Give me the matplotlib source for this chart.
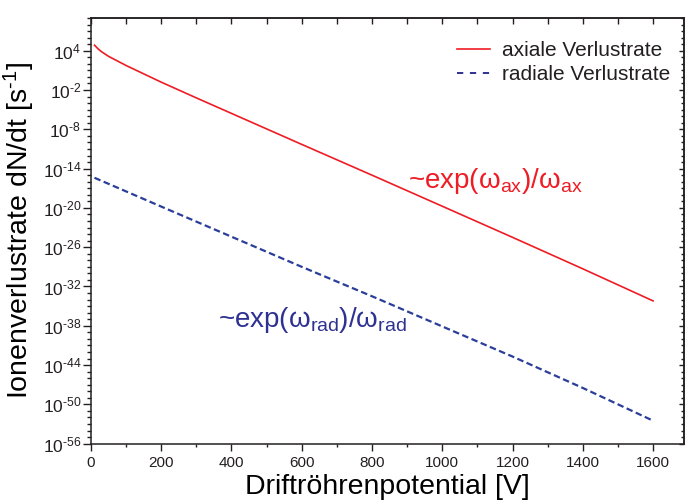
import numpy as np
import matplotlib
matplotlib.use('Agg')
import matplotlib.pyplot as plt
from matplotlib.ticker import FixedLocator, MultipleLocator, FuncFormatter, NullFormatter
from matplotlib.lines import Line2D

# values (rate in 1/s vs drift tube potential in V)
voltage_ax = [10, 20, 30, 50, 100, 200, 300, 400, 600, 800, 1000, 1200, 1400, 1600]
rate_ax = [7.1e4, 2.0e4, 7.1e3, 1.4e3, 56, 0.16, 6.3e-4, 2.7e-6, 5.0e-11,
           1.0e-15, 1.8e-20, 3.2e-25, 5.0e-30, 6.3e-35]

voltage_rad = [10, 200, 400, 600, 800, 1000, 1200, 1400, 1600]
rate_rad = [4.0e-16, 1.6e-20, 4.0e-25, 1.0e-29, 3.2e-34, 7.9e-39, 2.0e-43,
            3.2e-48, 3.2e-53]

labels = ['axiale Verlustrate', 'radiale Verlustrate']
ytick_exp = list(range(-56, 5, 6))

RED = '#ee1c24'
BLUE = '#2b3f9a'
NAVY = '#2e3192'
INK = '#231f20'

plt.rcParams['font.family'] = ['Liberation Sans', 'DejaVu Sans']
plt.rcParams['mathtext.fontset'] = 'custom'
plt.rcParams['mathtext.rm'] = 'Liberation Sans'
plt.rcParams['mathtext.it'] = 'Liberation Sans:italic'
plt.rcParams['lines.scale_dashes'] = False
plt.rcParams['text.color'] = INK
plt.rcParams['axes.edgecolor'] = INK
plt.rcParams['xtick.color'] = INK
plt.rcParams['ytick.color'] = INK


def pow_label(v, pos):
    # hyphen instead of the wide math minus, like the original
    return r'$\mathregular{10^{\text{%d}}}$' % round(np.log10(v))


fig = plt.figure(figsize=(6.85, 5.03), dpi=100)
ax = fig.add_axes([0.1328, 0.1180, 0.8657, 0.8462])

ax.plot(voltage_ax, rate_ax, color=RED, lw=1.2)
ax.plot(voltage_rad, rate_rad, color=BLUE, lw=1.6, ls=(0, (4.7, 2.5)))

ax.set_yscale('log')
ax.set_xlim(0, 1688)
ax.set_ylim(1e-56, 1e9)

# ticks
ax.xaxis.set_major_locator(MultipleLocator(200))
ax.xaxis.set_minor_locator(MultipleLocator(100))
ax.yaxis.set_major_locator(FixedLocator([10.0 ** e for e in ytick_exp]))
ax.yaxis.set_minor_locator(FixedLocator([10.0 ** e for e in range(-56, 10)]))
ax.yaxis.set_major_formatter(FuncFormatter(pow_label))
ax.yaxis.set_minor_formatter(NullFormatter())
ax.tick_params(axis='x', which='major', direction='out', length=5, width=1, labelsize=11, pad=4)
ax.tick_params(axis='x', which='minor', direction='out', length=2.5, width=1)
ax.tick_params(axis='y', which='major', direction='out', length=5.5, width=1, labelsize=12.5, pad=1.5)
ax.tick_params(axis='y', which='minor', direction='out', length=2.8, width=1)
for s in ax.spines.values():
    s.set_linewidth(1.1)

# mirrored ticks pointing inward on top and right
top = ax.secondary_xaxis('top')
top.xaxis.set_major_locator(MultipleLocator(100))
top.tick_params(direction='in', length=4.5, width=1, labeltop=False)
top.spines['top'].set_linewidth(1.1)
right = ax.secondary_yaxis('right')
right.yaxis.set_major_locator(FixedLocator([10.0 ** e for e in ytick_exp]))
right.yaxis.set_minor_locator(FixedLocator([10.0 ** e for e in range(-56, 10)]))
right.tick_params(which='major', direction='in', length=3.5, width=1, labelright=False)
right.tick_params(which='minor', direction='in', length=2, width=1)
right.yaxis.set_minor_formatter(NullFormatter())
right.spines['right'].set_linewidth(1.1)

ax.set_xlabel('Driftröhrenpotential [V]', fontsize=20.5, labelpad=3)
ax.set_ylabel(r'Ionenverlustrate dN/dt [s$^{\mathregular{\text{-1}}}$]', fontsize=20.5, labelpad=4)

handles = [Line2D([], [], color=RED, lw=1.2),
           Line2D([], [], color=NAVY, lw=1.4, ls=(0, (4.5, 4.8)))]
ax.legend(handles, labels, loc='upper left', bbox_to_anchor=(0.617, 0.946),
          frameon=False, fontsize=15, handlelength=1.6, handletextpad=0.55,
          labelspacing=0.25, borderpad=0, borderaxespad=0)

ax.text(902, 10 ** -16.9, r'~exp(ω$_{\mathregular{ax}}$)/ω$_{\mathregular{ax}}$',
        color=RED, fontsize=20, ha='left', va='baseline')
ax.text(361, 10 ** -38.2, r'~exp(ω$_{\mathregular{rad}}$)/ω$_{\mathregular{rad}}$',
        color=NAVY, fontsize=20, ha='left', va='baseline')

fig.savefig('out.png', dpi=100)
